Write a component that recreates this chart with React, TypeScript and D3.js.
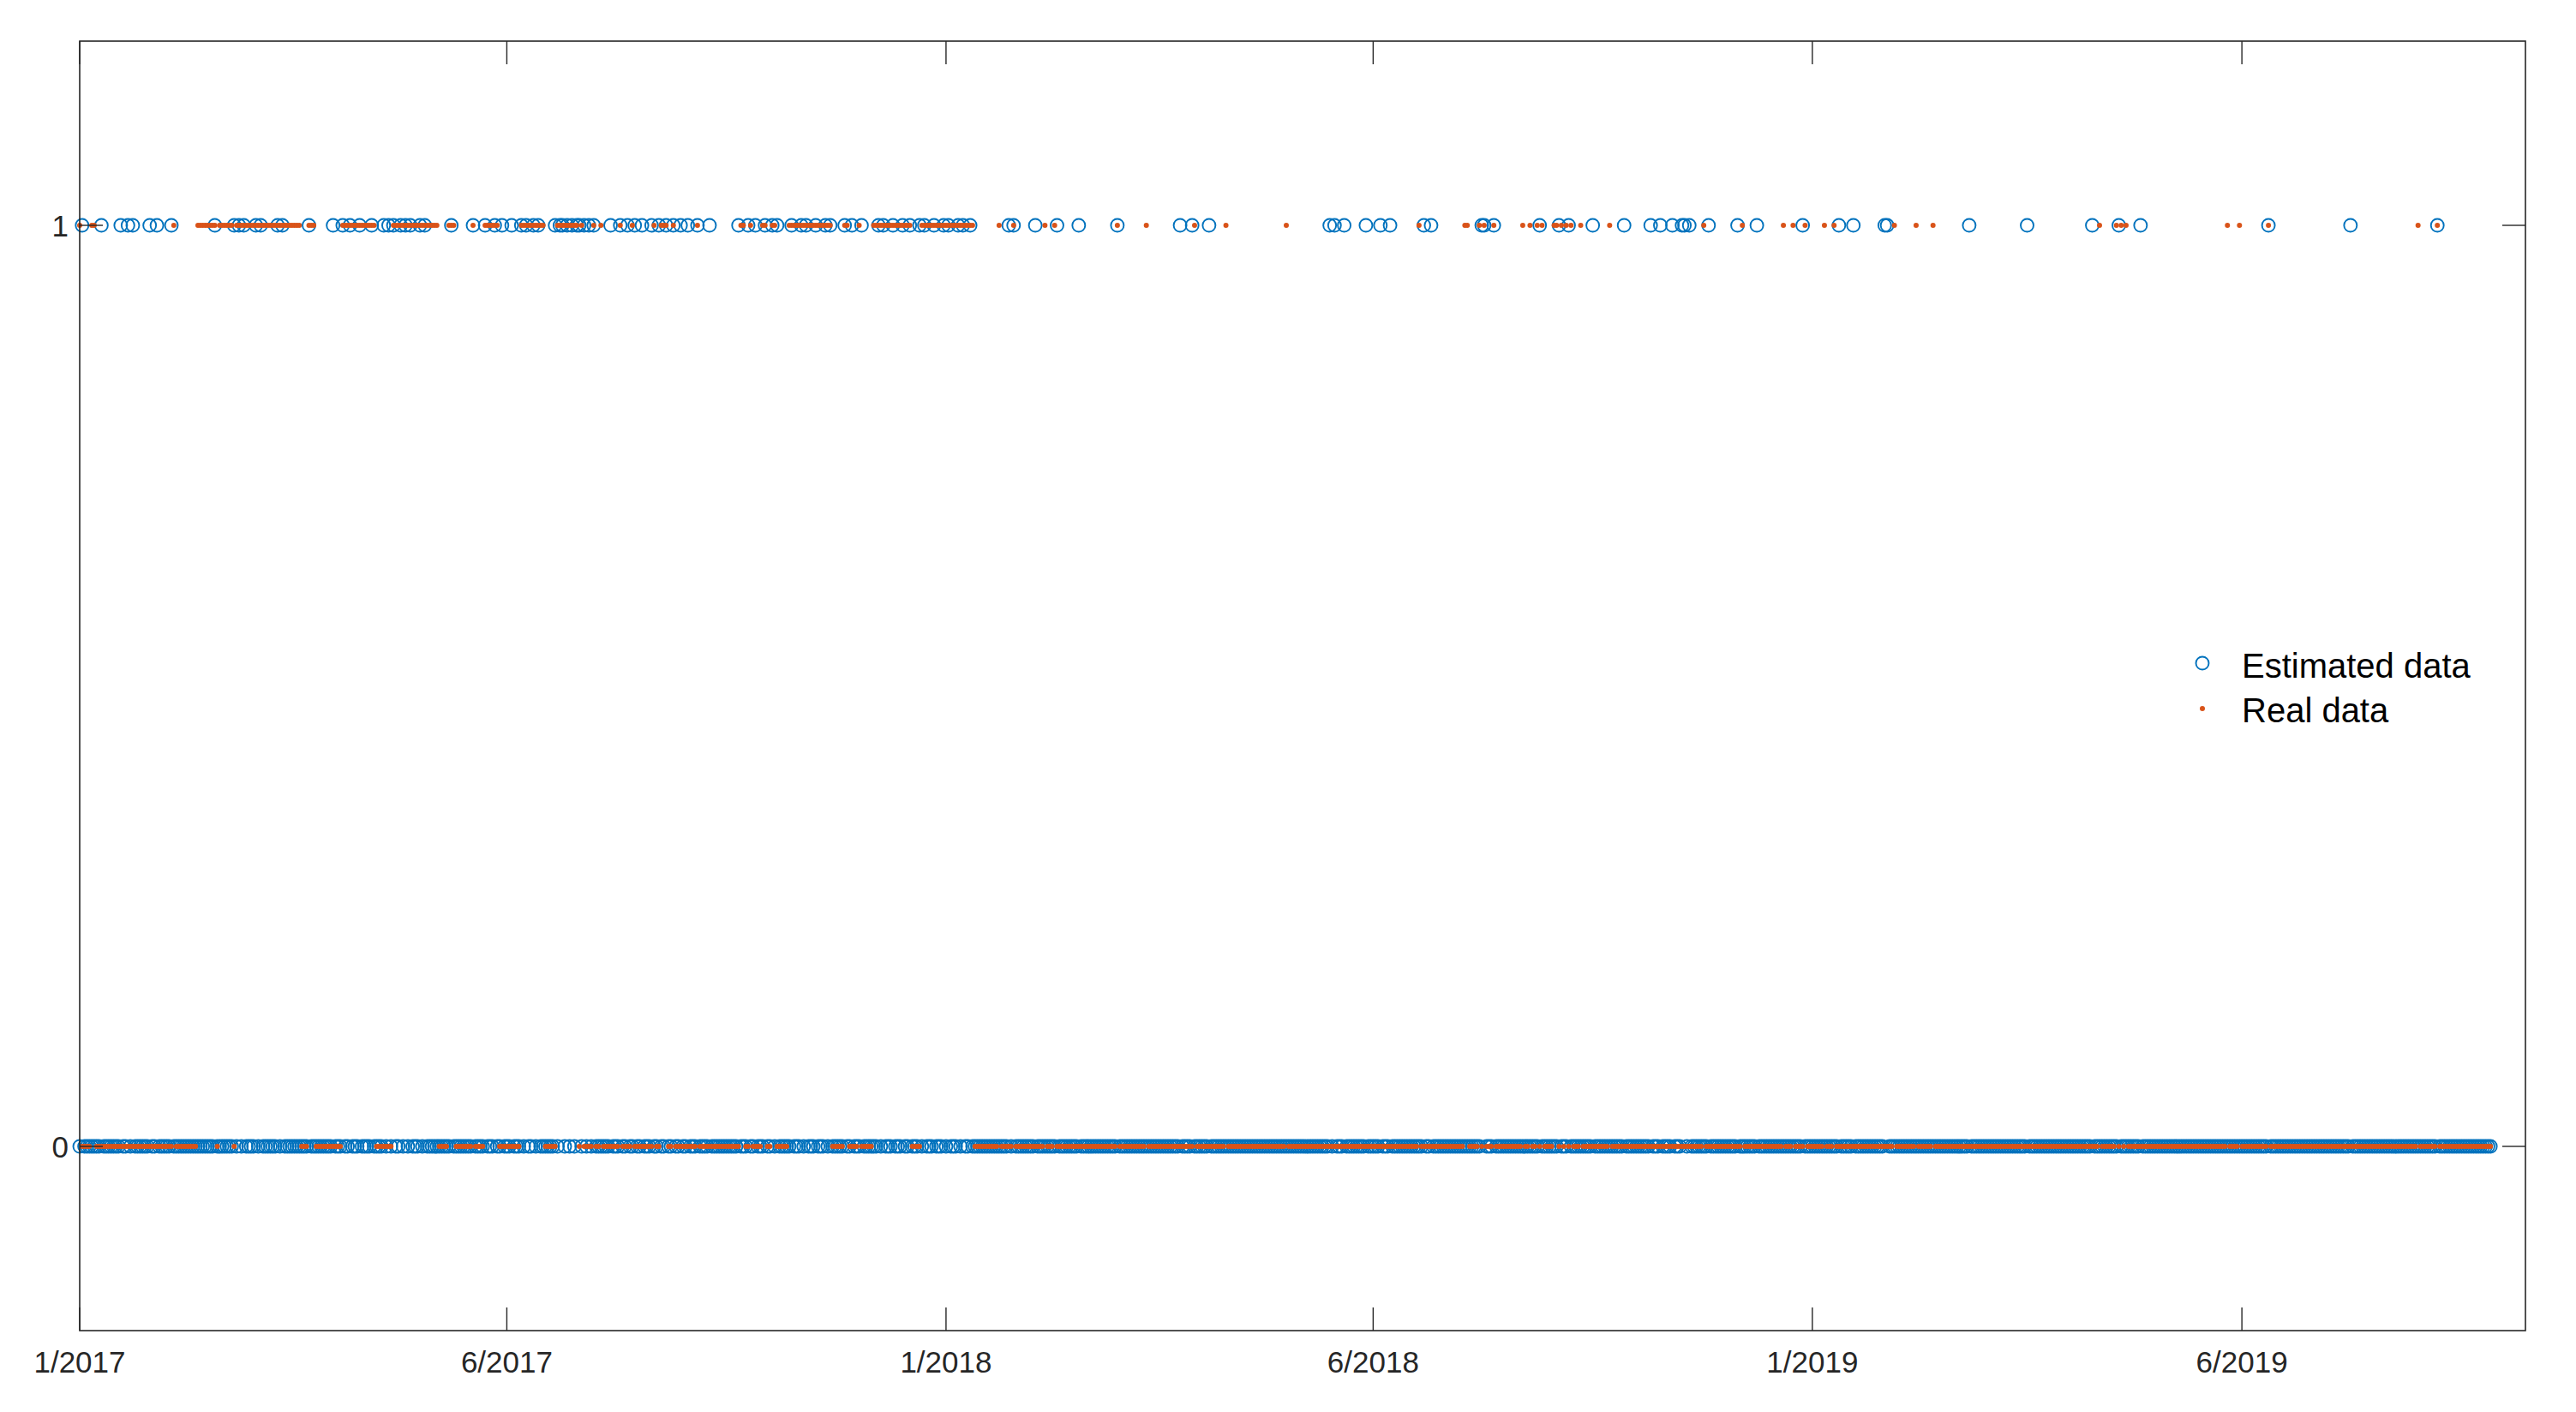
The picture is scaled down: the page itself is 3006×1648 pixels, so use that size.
import React from 'react';
import * as d3 from 'd3';

// ---- Data ----
const SAMPLE_COUNT = 1000; // samples 0..999, value 0 except where listed below
const X_DOMAIN_MAX = 1013.5;
const X_TICK_INDEX = [0, 177, 359, 536, 718, 896];
const X_TICK_LABELS = ['1/2017', '6/2017', '1/2018', '6/2018', '1/2019', '6/2019'];
const Y_TICKS = [0, 1];

// sample indices where the estimated series equals 1
const ESTIMATED_ONES = [
  1, 9, 17, 20, 22, 29, 32, 38, 56, 64, 66, 68, 73, 75, 82, 84, 95, 105, 109, 112, 116, 121,
  126, 128, 130, 133, 135, 137, 141, 143, 154, 163, 168, 172, 175, 179, 183, 185, 188, 190,
  197, 199, 200, 202, 204, 206, 207, 209, 211, 213, 220, 224, 227, 230, 233, 237, 240, 243,
  246, 249, 252, 256, 261, 273, 277, 280, 284, 287, 289, 295, 299, 301, 305, 309, 311, 317,
  320, 324, 331, 333, 337, 341, 344, 348, 350, 354, 358, 360, 364, 366, 369, 385, 387, 396,
  405, 414, 430, 456, 461, 468, 518, 520, 524, 533, 539, 543, 557, 560, 581, 582, 586, 605,
  613, 617, 627, 640, 651, 655, 660, 664, 665, 667, 675, 687, 695, 714, 729, 735, 748, 749,
  783, 807, 834, 845, 854, 907, 941, 977,
];

// runs [start, end] (inclusive) of sample indices where the real series equals 1
const REAL_ONE_RUNS: [number, number][] = [
  [0, 0], [5, 6], [39, 39], [49, 56], [58, 63], [65, 91], [95, 97], [109, 122], [130, 148],
  [153, 155], [163, 163], [168, 173], [183, 192], [198, 206], [208, 208], [213, 213],
  [216, 216], [224, 224], [229, 229], [238, 238], [241, 243], [246, 246], [256, 256],
  [274, 275], [278, 278], [283, 284], [287, 288], [294, 311], [317, 318], [323, 323],
  [329, 344], [349, 370], [381, 381], [387, 387], [400, 400], [404, 404], [430, 430],
  [442, 442], [462, 462], [475, 475], [500, 500], [555, 555], [574, 575], [580, 580],
  [582, 582], [586, 586], [598, 598], [601, 601], [604, 604], [606, 606], [611, 612],
  [614, 614], [616, 616], [618, 618], [622, 622], [634, 634], [673, 673], [689, 689],
  [706, 706], [710, 710], [715, 715], [723, 723], [727, 727], [752, 752], [761, 761],
  [768, 768], [837, 837], [844, 844], [846, 846], [848, 848], [890, 890], [895, 895],
  [907, 907], [969, 969], [977, 977],
];

const LEGEND_LABELS = ['Estimated data', 'Real data'];

// ---- Styles ----
const BLUE = '#0072BD';
const ORANGE = '#D95319';
const AXIS = '#262626';
const FONT = '"Liberation Sans", Arial, Helvetica, sans-serif';

export default function App() {
  const W = 3006;
  const H = 1648;
  const left = 93, right = 2947, top = 48, bottom = 1553;
  const x = d3.scaleLinear().domain([0, X_DOMAIN_MAX]).range([left, right]);
  const y = d3.scaleLinear().domain([-0.2, 1.2]).range([bottom, top]);

  const estSet = new Set(ESTIMATED_ONES);
  const realSet = new Set<number>();
  REAL_ONE_RUNS.forEach(([a, b]) => {
    for (let i = a; i <= b; i++) realSet.add(i);
  });
  const indices = d3.range(SAMPLE_COUNT);
  const estimated = indices.map((i) => ({ i, v: estSet.has(i) ? 1 : 0 }));
  const real = indices.map((i) => ({ i, v: realSet.has(i) ? 1 : 0 }));

  const tickLen = 27;
  const fs = 35;
  const legendFs = 40;

  return (
    <svg
      width={W}
      height={H}
      style={{ position: 'absolute', left: 0, top: 0, display: 'block', background: '#fff' }}
    >
      <rect x={0} y={0} width={W} height={H} fill="#fff" />
      {/* data */}
      <g>
        {estimated.map((d) => (
          <circle
            key={'e' + d.i}
            cx={x(d.i)}
            cy={y(d.v)}
            r={7.5}
            fill="none"
            stroke={BLUE}
            strokeWidth={1.9}
          />
        ))}
      </g>
      <g>
        {real.map((d) => (
          <circle key={'r' + d.i} cx={x(d.i)} cy={y(d.v)} r={3} fill={ORANGE} />
        ))}
      </g>

      {/* axes box */}
      <rect
        x={left}
        y={top}
        width={right - left}
        height={bottom - top}
        fill="none"
        stroke={AXIS}
        strokeWidth={1.6}
      />
      {/* x ticks */}
      {X_TICK_INDEX.map((t, k) => (
        <g key={'xt' + k}>
          <line x1={x(t)} x2={x(t)} y1={bottom} y2={bottom - tickLen} stroke={AXIS} strokeWidth={1.4} />
          <line x1={x(t)} x2={x(t)} y1={top} y2={top + tickLen} stroke={AXIS} strokeWidth={1.4} />
          <text
            x={x(t)}
            y={1602}
            textAnchor="middle"
            fontFamily={FONT}
            fontSize={fs}
            fill={AXIS}
          >
            {X_TICK_LABELS[k]}
          </text>
        </g>
      ))}
      {/* y ticks */}
      {Y_TICKS.map((t) => (
        <g key={'yt' + t}>
          <line x1={left} x2={left + tickLen} y1={y(t)} y2={y(t)} stroke={AXIS} strokeWidth={1.4} />
          <line x1={right} x2={right - tickLen} y1={y(t)} y2={y(t)} stroke={AXIS} strokeWidth={1.4} />
          <text
            x={left - 13}
            y={y(t) + 13}
            textAnchor="end"
            fontFamily={FONT}
            fontSize={fs}
            fill={AXIS}
          >
            {t}
          </text>
        </g>
      ))}

      {/* legend */}
      <g>
        <circle cx={2570} cy={774} r={7.5} fill="none" stroke={BLUE} strokeWidth={1.9} />
        <text x={2616} y={791} fontFamily={FONT} fontSize={legendFs} fill="#000">
          {LEGEND_LABELS[0]}
        </text>
        <circle cx={2570} cy={827} r={3} fill={ORANGE} />
        <text x={2616} y={843} fontFamily={FONT} fontSize={legendFs} fill="#000">
          {LEGEND_LABELS[1]}
        </text>
      </g>
    </svg>
  );
}
